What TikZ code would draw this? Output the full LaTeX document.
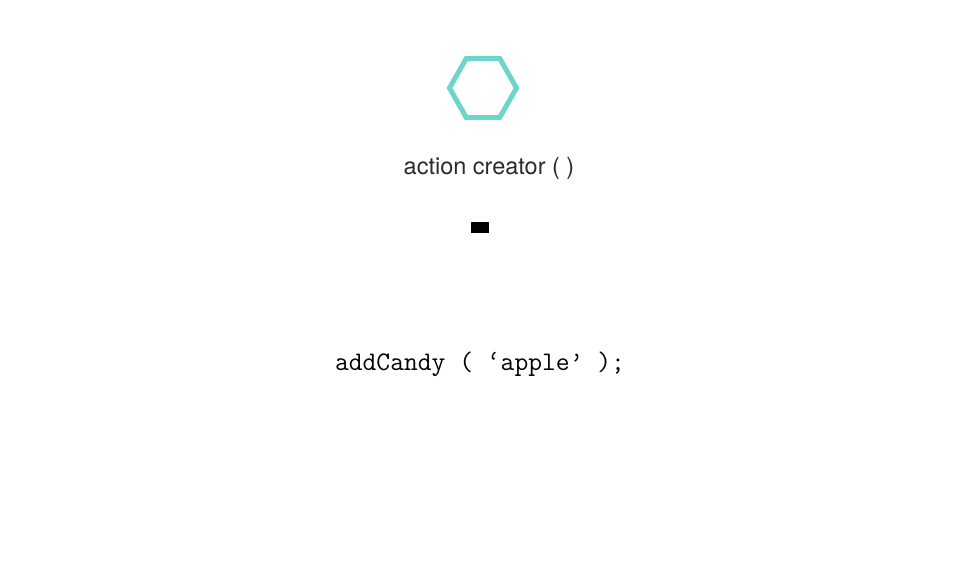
\documentclass[tikz,border=0pt]{standalone}
\usepackage{fontspec}
\setmainfont{TeX Gyre Heros}
\definecolor{hexteal}{HTML}{6DD5C9}
\definecolor{labelgray}{HTML}{2A2A2A}
\begin{document}
\begin{tikzpicture}[x=1pt,y=-1pt,
  hexstyle/.style={draw=hexteal,line width=5pt,line join=miter},
  titlestyle/.style={font=\fontsize{23.5}{28}\selectfont,text=labelgray,inner sep=0pt,anchor=base},
  codestyle/.style={font=\ttfamily\fontsize{26.8}{30}\selectfont,text=black,inner sep=0pt,anchor=base}]
\useasboundingbox (0,0) rectangle (960,560);
\fill[white] (0,0) rectangle (960,560);
\draw[hexstyle] (449.5,88) -- (466.25,58.5) -- (499.75,58.5) -- (516.5,88) -- (499.75,117.5) -- (466.25,117.5) -- cycle;
\node[titlestyle] (title) at (489,174) {action creator ( )};
\fill[black] (471,222) rectangle (489,233);
\node[codestyle] (code) at (480,370) {addCandy ( ‘apple’ );};
\end{tikzpicture}
\end{document}
